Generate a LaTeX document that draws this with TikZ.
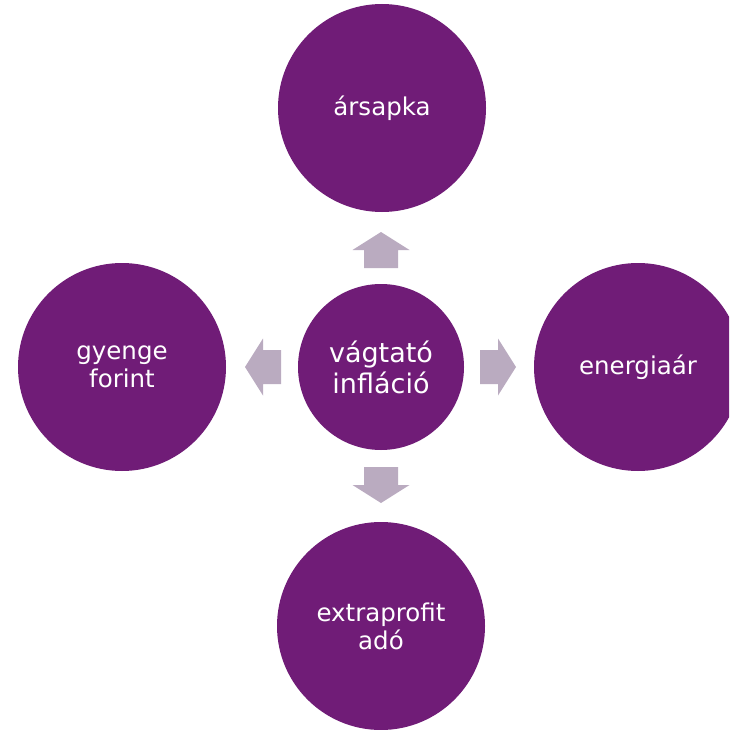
\documentclass[tikz,border=0pt]{standalone}
\usepackage{fontspec}
\setmainfont{DejaVu Sans}
\definecolor{circfill}{HTML}{701C77}
\definecolor{arrfill}{HTML}{BAABC0}
\tikzset{
  bigcirc/.style={circle,fill=circfill,draw=none,minimum size=208pt,inner sep=0pt,text=white,align=center,font=\fontsize{24.5}{28}\selectfont},
  midcirc/.style={circle,fill=circfill,draw=none,minimum size=166pt,inner sep=0pt,text=white,align=center,font=\fontsize{27}{31}\selectfont},
  blockarr/.style={fill=arrfill,draw=none}
}
\begin{document}
\begin{tikzpicture}[x=1pt,y=-1pt]
\useasboundingbox (0,0) rectangle (729,730);
\clip (0,0) rectangle (729,730);
\node[midcirc] (c) at (381,367) {vágtató\\infláció};
\node[bigcirc] (t) at (382,108) {ársapka};
\node[bigcirc] (l) at (122,367) {gyenge\\forint};
\node[bigcirc] (r) at (638,367) {energiaár};
\node[bigcirc] (b) at (381,626) {extraprofit\\adó};
% up arrow
\fill[blockarr] (364,268) -- (398,268) -- (398,250) -- (409.5,250) -- (381,232) -- (352.5,250) -- (364,250) -- cycle;
% down arrow
\fill[blockarr] (364,467) -- (398,467) -- (398,485) -- (409.5,485) -- (381,503) -- (352.5,485) -- (364,485) -- cycle;
% left arrow
\fill[blockarr] (281,350) -- (281,384) -- (263,384) -- (263,395.5) -- (245,367) -- (263,338.5) -- (263,350) -- cycle;
% right arrow
\fill[blockarr] (480,350) -- (480,384) -- (498,384) -- (498,395.5) -- (516,367) -- (498,338.5) -- (498,350) -- cycle;
\end{tikzpicture}
\end{document}
